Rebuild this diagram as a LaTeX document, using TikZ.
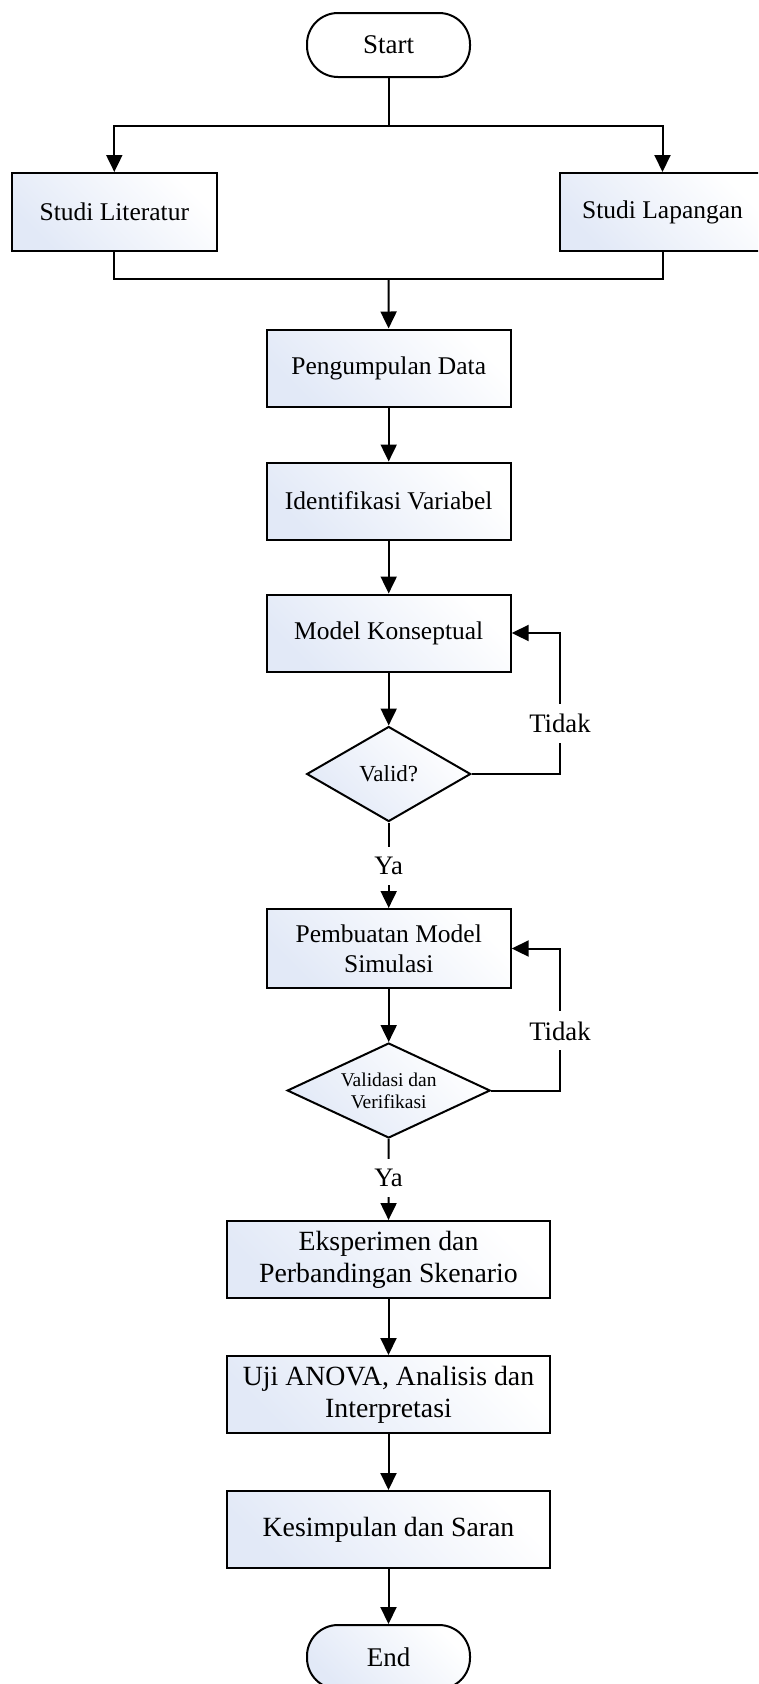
\documentclass[tikz,border=0pt]{standalone}
\usepackage{fontspec}
\setmainfont{Liberation Serif}
\usetikzlibrary{arrows.meta,shapes.geometric}
\definecolor{boxtint}{RGB}{226,233,247}

\begin{document}
\begin{tikzpicture}[x=1pt,y=-1pt,
  line width=2pt,
  shadefill/.style={top color=boxtint, middle color=white!75!boxtint, bottom color=white, shading angle=135},
  procbox/.style={draw, rectangle, shadefill, minimum width=244pt, minimum height=77pt,
    inner sep=0pt, align=center, font=\fontsize{25.5}{30}\selectfont},
  widebox/.style={procbox, minimum width=323pt, font=\fontsize{27.8}{32}\selectfont},
  sidebox/.style={procbox, minimum width=205pt, minimum height=78pt},
  terminal/.style={draw, rectangle, rounded corners=31pt, minimum width=163pt,
    minimum height=64pt, inner sep=0pt, font=\fontsize{27}{32}\selectfont},
  decision/.style={draw, diamond, shadefill, inner sep=0pt, align=center},
  flow/.style={-{Triangle[length=17pt,width=16pt]}},
  edgelabel/.style={fill=white, inner xsep=2pt, inner ysep=10pt,
    font=\fontsize{26.7}{30}\selectfont}
]
\useasboundingbox (0,0) rectangle (758,1684);
\clip (0,0) rectangle (758,1684);

% start and the two parallel studies
\node[terminal, fill=white] (start) at (388.5,45) {Start};
\node[sidebox] (lit) at (114.3,212) {Studi Literatur};
\node[sidebox] (lap) at (662.5,212) {Studi Lapangan};

% main process chain
\node[procbox] (data) at (388.7,368) {Pengumpulan Data};
\node[procbox] (var) at (388.7,501) {Identifikasi Variabel};
\node[procbox] (konsep) at (388.7,633) {Model Konseptual};
\node[decision, aspect=1.73, minimum width=164pt, minimum height=95pt,
      font=\fontsize{23}{27}\selectfont] (valid) at (388.7,774) {Valid?};
\node[procbox, minimum height=79pt] (simul) at (388.7,948.5) {Pembuatan Model\\Simulasi};
\node[decision, aspect=2.14, minimum width=203pt, minimum height=95pt,
      font=\fontsize{19.5}{22}\selectfont] (verif) at (388.7,1090.5) {Validasi dan\\Verifikasi};
\node[widebox] (eksp) at (388.5,1259.5) {Eksperimen dan\\Perbandingan Skenario};
\node[widebox] (anova) at (388.5,1394.5) {Uji ANOVA, Analisis dan\\Interpretasi};
\node[widebox] (simpul) at (388.5,1529.5) {Kesimpulan dan Saran};
\node[terminal, shadefill] (end) at (388.5,1657) {End};

% branching and merging points
\coordinate (split) at (388.5,126);
\coordinate (merge) at (388.5,279);
\coordinate (back1) at (560,633);
\coordinate (back2) at (560,948.5);

% connectors
\draw (start) -- (split);
\draw[flow] (split) -| (lit.north);
\draw[flow] (split) -| (lap.north);
\draw (lit.south) |- (merge);
\draw (lap.south) |- (merge);
\draw[flow] (merge) -- (data);
\draw[flow] (data) -- (var);
\draw[flow] (var) -- (konsep);
\draw[flow] (konsep) -- (valid);
\draw[flow] (valid) -- node[edgelabel, pos=0.51] {Ya} (simul);
\draw[flow] (valid.east) -| node[edgelabel, pos=0.68] {Tidak} (back1) -- (konsep.east);
\draw[flow] (simul) -- (verif);
\draw[flow] (verif) -- node[edgelabel, pos=0.48] {Ya} (eksp);
\draw[flow] (verif.east) -| node[edgelabel, pos=0.71] {Tidak} (back2) -- (simul.east);
\draw[flow] (eksp) -- (anova);
\draw[flow] (anova) -- (simpul);
\draw[flow] (simpul) -- (end);
\end{tikzpicture}
\end{document}
